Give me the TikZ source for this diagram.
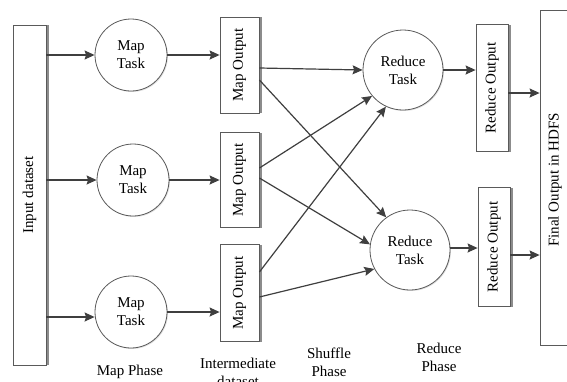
\documentclass[tikz,border=0pt]{standalone}
\usepackage{fontspec}
\setmainfont{Liberation Serif}
\usetikzlibrary{arrows.meta, positioning, shadows}
\definecolor{mrline}{HTML}{3F3F3F}
\definecolor{mrbox}{HTML}{5A5A5A}
\definecolor{mrshade}{HTML}{8C8C8C}

\begin{document}
\begin{tikzpicture}[x=1pt, y=-1pt, font=\fontsize{15}{18}\selectfont,
    arr/.style={-{Stealth[length=10pt, width=9pt, inset=1.5pt]}, line width=1.2pt, mrline},
    databox/.style={draw=mrbox, line width=0.8pt, fill=white, inner sep=0pt,
      general shadow={fill=mrshade, shadow xshift=2.5pt, shadow yshift=0pt}},
    taskcirc/.style={draw=mrbox, line width=0.8pt, fill=white, circle, align=center, inner sep=0pt,
      general shadow={fill=black!12, shadow xshift=1pt, shadow yshift=-1pt}},
    phase/.style={align=center, inner sep=0pt}]
      \useasboundingbox (0,0) rectangle (567,381);
      % input dataset
      \node[databox, minimum width=33pt, minimum height=340pt] (inp) at (29.5,195) {};
      \node[rotate=90] at (inp) {Input dataset};
      % map tasks
      \node[taskcirc, minimum size=72pt] (m1) at (131,55) {Map\\Task};
      \node[taskcirc, minimum size=72pt] (m2) at (133,180) {Map\\Task};
      \node[taskcirc, minimum size=72pt] (m3) at (131,312) {Map\\Task};
      % map outputs
      \node[databox, minimum width=39pt, minimum height=96pt] (o1) at (239.5,65) {};
      \node[rotate=90] at (o1) {Map Output};
      \node[databox, minimum width=39pt, minimum height=95pt] (o2) at (239.5,180) {};
      \node[rotate=90] at (o2) {Map Output};
      \node[databox, minimum width=39pt, minimum height=97pt] (o3) at (239.5,293) {};
      \node[rotate=90] at (o3) {Map Output};
      % reduce tasks
      \node[taskcirc, minimum size=80pt] (r1) at (403,70) {Reduce\\Task};
      \node[taskcirc, minimum size=80pt] (r2) at (410,250) {Reduce\\Task};
      % reduce outputs
      \node[databox, minimum width=32pt, minimum height=127pt] (ro1) at (492,88) {};
      \node[rotate=90] at (ro1) {Reduce Output};
      \node[databox, minimum width=32pt, minimum height=119pt] (ro2) at (494,247) {};
      \node[rotate=90] at (ro2) {Reduce Output};
      % final output
      \node[draw=mrbox, line width=0.8pt, minimum width=60pt, minimum height=335pt, inner sep=0pt] (fin) at (570,177.5) {};
      \node[rotate=90] at (555,180) {Final Output in HDFS};
      % phases
      \node[phase] (pmap) at (130,372) {Map Phase};
      \node[phase] (pint) at (238,372.5) {Intermediate\\dataset};
      \node[phase] (pshf) at (329,362.5) {Shuffle\\Phase};
      \node[phase] (pred) at (439,357.5) {Reduce\\Phase};
      % input -> map
      \draw[arr] (m1 -| inp.east) -- (m1);
      \draw[arr] (m2 -| inp.east) -- (m2);
      \coordinate (p3) at ([yshift=-5pt]m3.center -| inp.east);
      \draw[arr] (p3) -- (p3 -| m3.west);
      % map -> map output
      \draw[arr] (m1) -- (m1 -| o1.west);
      \draw[arr] (m2) -- (m2 -| o2.west);
      \draw[arr] (m3) -- (m3 -| o3.west);
      % shuffle
      \draw[arr] ([yshift=-3pt]o1.east) -- (r1.west);
      \draw[arr] ([yshift=-15pt]o1.east) -- (r2.126);
      \draw[arr] ([yshift=12pt]o2.east) -- (r1.220);
      \draw[arr] ([yshift=2pt]o2.east) -- (r2.172);
      \draw[arr] ([yshift=21pt]o3.east) -- (r1.245);
      \draw[arr] ([yshift=-4pt]o3.east) -- (r2.208);
      % reduce -> reduce output
      \draw[arr] (r1) -- (r1 -| ro1.west);
      \draw[arr] ([yshift=2pt]r2.east) -- ([yshift=2pt]r2.east -| ro2.west);
      % reduce output -> final
      \coordinate (q1) at ([yshift=-5pt]ro1.east);
      \coordinate (q2) at ([yshift=-8pt]ro2.east);
      \draw[arr] (q1) -- (q1 -| fin.west);
      \draw[arr] (q2) -- (q2 -| fin.west);
    \end{tikzpicture}
\end{document}
